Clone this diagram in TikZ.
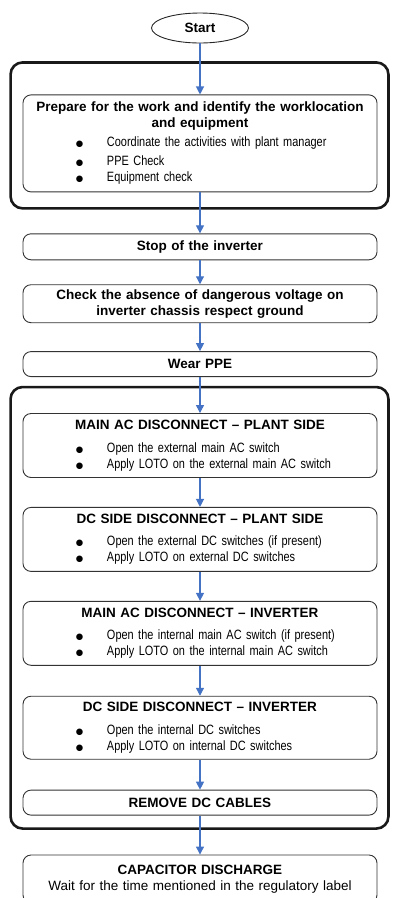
\documentclass[tikz,border=0pt]{standalone}
\usepackage{fontspec}
\setmainfont{Liberation Sans}
\newfontfamily\narrowfont[FakeStretch=0.81]{Liberation Sans}
\newfontfamily\dotfont{DejaVu Sans}
\usetikzlibrary{positioning,shapes.geometric,arrows.meta}
\definecolor{flowblue}{RGB}{68,114,196}
% bullet line inside a step box
\newcommand{\bul}[1]{\makebox[354pt][l]{\hspace*{53pt}\makebox[31pt][l]{{\dotfont\fontsize{8.5}{16}\selectfont ●}}\narrowfont #1}}

\begin{document}
\begin{tikzpicture}[font=\fontsize{13.5}{16}\selectfont,
    flow/.style={->,>={Triangle[length=8pt,width=8pt]},draw=flowblue,line width=1.2pt},
    start node/.style={ellipse,draw=black!85,line width=0.9pt,minimum width=97pt,minimum height=30pt,inner sep=0pt},
    step box/.style={rectangle,rounded corners=8pt,draw=black!80,line width=0.9pt,
                     text width=354pt,inner xsep=0pt,inner ysep=0pt,align=center},
    frame box/.style={rounded corners=12pt,line width=2.6pt,draw=black!90}]

  \useasboundingbox (0,0) rectangle (393pt,-898pt);

  \node[start node] (start) at (200pt,-28pt) {\textbf{Start}};
  \node[step box,minimum height=97pt,below=51pt of start] (prep)
    {\textbf{Prepare for the work and identify the worklocation}\\
     \textbf{and equipment}\\[3pt]
     \bul{Coordinate the activities with plant manager}\\[3pt]
     \bul{PPE Check}\\
     \bul{Equipment check}};
  \node[step box,minimum height=26pt,below=41pt of prep] (stop) {\textbf{Stop of the inverter}};
  \node[step box,minimum height=38pt,below=24pt of stop] (check)
    {\textbf{Check the absence of dangerous voltage on}\\
     \textbf{inverter chassis respect ground}};
  \node[step box,minimum height=25pt,below=28pt of check] (wear) {\textbf{Wear PPE}};

  \node[step box,minimum height=64pt,below=36pt of wear] (acplant)
    {\textbf{MAIN AC DISCONNECT -- PLANT SIDE}\\[6.5pt]
     \bul{Open the external main AC switch}\\
     \bul{Apply LOTO on the external main AC switch}};
  \node[step box,minimum height=64pt,below=29pt of acplant] (dcplant)
    {\textbf{DC SIDE DISCONNECT -- PLANT SIDE}\\[6.5pt]
     \bul{Open the external DC switches (if present)}\\
     \bul{Apply LOTO on external DC switches}};
  \node[step box,minimum height=64pt,below=29pt of dcplant] (acinv)
    {\textbf{MAIN AC DISCONNECT -- INVERTER}\\[6.5pt]
     \bul{Open the internal main AC switch (if present)}\\
     \bul{Apply LOTO on the internal main AC switch}};
  \node[step box,minimum height=63pt,below=30pt of acinv] (dcinv)
    {\textbf{DC SIDE DISCONNECT -- INVERTER}\\[6.5pt]
     \bul{Open the internal DC switches}\\
     \bul{Apply LOTO on internal DC switches}};
  \node[step box,minimum height=25pt,below=30pt of dcinv] (remove) {\textbf{REMOVE DC CABLES}};
  \node[step box,minimum height=48pt,below=39pt of remove] (discharge)
    {\textbf{CAPACITOR DISCHARGE}\\
     Wait for the time mentioned in the regulatory label};

  % outer frames
  \draw[frame box] ([shift={(-12pt,32pt)}]prep.north west) rectangle ([shift={(11pt,-16pt)}]prep.south east);
  \draw[frame box] ([shift={(-12pt,26pt)}]acplant.north west) rectangle ([shift={(11pt,-13pt)}]remove.south east);

  \foreach \a/\b in {start/prep,prep/stop,stop/check,check/wear,wear/acplant,
                     acplant/dcplant,dcplant/acinv,acinv/dcinv,dcinv/remove,remove/discharge}
    \draw[flow] (\a) -- (\b);
\end{tikzpicture}
\end{document}
